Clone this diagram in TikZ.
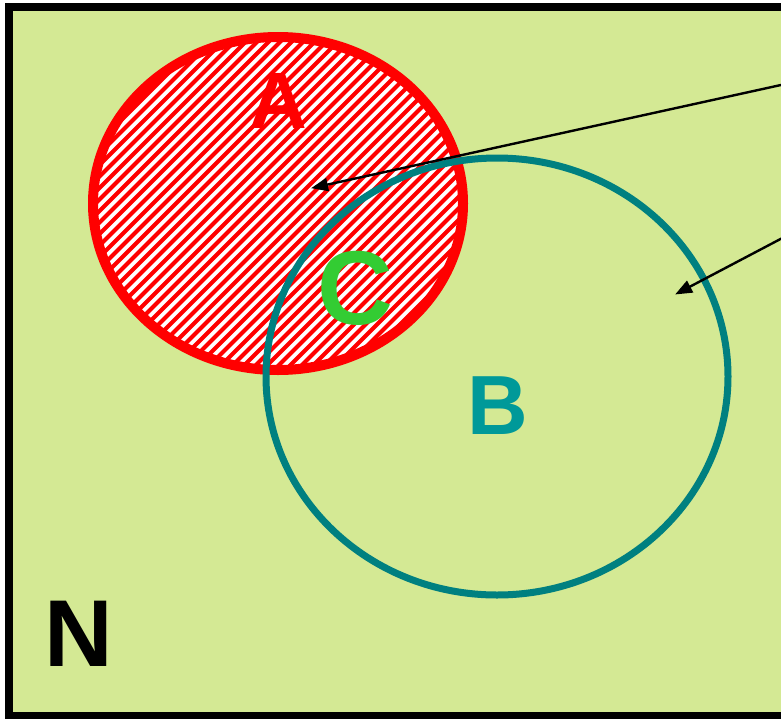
\documentclass[tikz,border=0pt]{standalone}
\usepackage{fontspec}
\setmainfont{Liberation Sans}
\usetikzlibrary{arrows.meta}
\definecolor{bggreen}{RGB}{212,233,148}
\definecolor{setred}{RGB}{255,0,0}
\definecolor{setteal}{RGB}{0,128,128}
\definecolor{bteal}{RGB}{0,153,153}
\definecolor{cgreen}{RGB}{51,204,51}
\tikzset{
  lbl/.style={font=\bfseries, inner sep=0pt, anchor=center},
  pointer/.style={draw=black, line width=2.4pt, -{Triangle[length=17pt,width=13pt]}, shorten >=-1pt}
}
\begin{document}
\begin{tikzpicture}[x=1pt,y=-1pt]
\useasboundingbox (0,0) rectangle (781,718);
\fill[white] (0,0) rectangle (781,718);
\clip (0,0) rectangle (781,718);
% universe
\fill[bggreen] (9,7) rectangle (820,716);
\draw[black, line width=8pt] (9,7) rectangle (820,716);
% set A hatched
\begin{scope}
  \clip (278,203.5) ellipse [x radius=185, y radius=166.5];
  \fill[white] (80,20) rectangle (480,390);
  \foreach \k in {0,11.5,...,900} {
    \draw[setred, line width=4pt] (\k-400,400) -- (\k,0);
  }
\end{scope}
\draw[setred, line width=10pt] (278,203.5) ellipse [x radius=185, y radius=166.5];
% set B
\draw[setteal, line width=7pt] (497,376.5) ellipse [x radius=231, y radius=218.5];
% labels
\node[lbl, text=setred, font=\bfseries\fontsize{80}{80}\selectfont] (A) at (278,101) {A};
\node[lbl, text=cgreen, font=\bfseries\fontsize{105}{105}\selectfont] (C) at (355,288) {C};
\node[lbl, text=bteal, font=\bfseries\fontsize{84}{84}\selectfont] (B) at (498,406) {B};
\node[lbl, text=black, font=\bfseries\fontsize{95}{95}\selectfont] (N) at (79,634) {N};
% pointers
\coordinate (p1s) at (790,83);
\coordinate (p1e) at (312,188);
\coordinate (p2s) at (790,234);
\coordinate (p2e) at (676,294);
\draw[pointer] (p1s) -- (p1e);
\draw[pointer] (p2s) -- (p2e);
\end{tikzpicture}
\end{document}
